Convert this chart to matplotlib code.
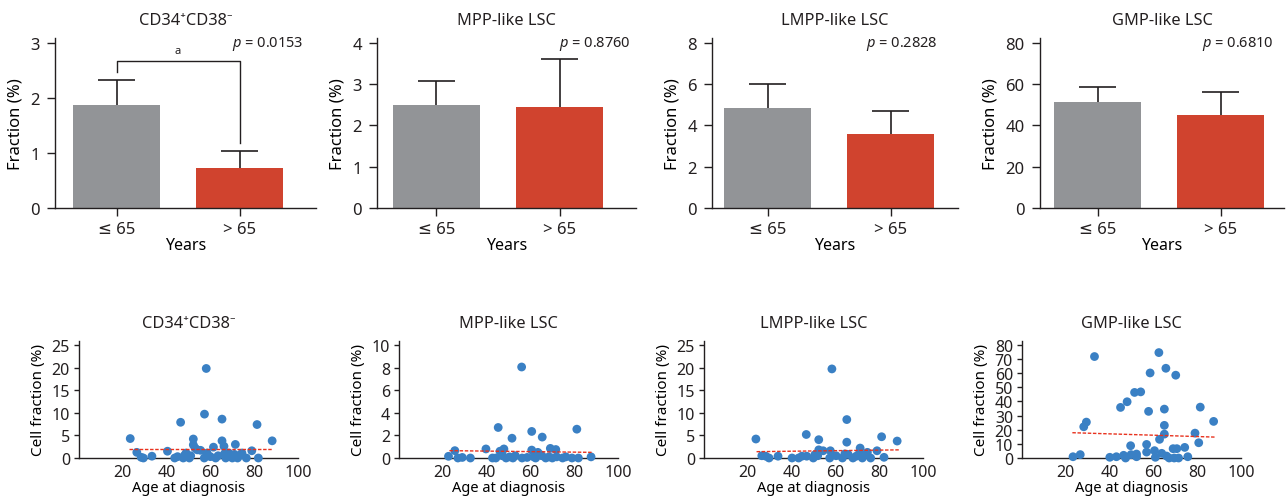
import numpy as np
import matplotlib
matplotlib.use("Agg")
import matplotlib.pyplot as plt

plt.rcParams['font.family'] = ['Noto Sans', 'DejaVu Sans']
plt.rcParams['mathtext.fontset'] = 'custom'
plt.rcParams['mathtext.it'] = 'Noto Sans:italic'
plt.rcParams['mathtext.rm'] = 'Noto Sans'
plt.rcParams['text.color'] = '#231f20'
plt.rcParams['axes.edgecolor'] = '#231f20'
plt.rcParams['xtick.color'] = '#231f20'
plt.rcParams['ytick.color'] = '#231f20'

# ---- data ----
titles = ['CD34⁺CD38⁻', 'MPP-like LSC', 'LMPP-like LSC', 'GMP-like LSC']
age_groups = ['≤ 65', '> 65']
bar_means = [[1.88, 0.73], [2.49, 2.45], [4.86, 3.57], [51.5, 45.2]]
bar_errs = [[0.45, 0.30], [0.60, 1.15], [1.16, 1.13], [7.0, 11.0]]
p_values = ['0.0153', '0.8760', '0.2828', '0.6810']
bar_yticks = [[0, 1, 2, 3], [0, 1, 2, 3, 4], [0, 2, 4, 6, 8], [0, 20, 40, 60, 80]]

cd34_age = [23.4, 26.4, 28.4, 29.4, 33.3, 40.4, 43.7, 45, 46.4, 47.6, 48.2, 48.9, 50.4, 51, 52.2,
            52.2, 53, 54, 55.5, 57.2, 57.3, 58.1, 58.5, 60, 61.4, 62.4, 63.5, 65.3, 65.3, 66.2,
            66.5, 67, 68.4, 69, 70, 71, 71.4, 72.4, 73.5, 74.4, 76.4, 78.9, 81.3, 81.9, 88.2]
cd34_frac = [4.3, 1.25, 0.15, 0, 0.4, 1.5, 0, 0.3, 7.9, 0, 0.6, 1.1, 0, 0.5, 4.2,
             2.9, 2.2, 1.8, 1.7, 0, 9.7, 19.8, 1.1, 0.3, 2.4, 0, 0.5, 8.6, 3.8, 2.6,
             1.0, 0, 1.1, 0.3, 0, 0.8, 3.0, 0, 0.6, 1.1, 0, 1.6, 7.4, 0, 3.8]

mpp_age = [22.6, 25.5, 26.9, 28.9, 32.6, 39.7, 42.7, 44.2, 45.3, 46.1, 47.2, 47.9, 48.9, 50.5,
           51.6, 52, 53.1, 56, 56.2, 58.5, 60.6, 60.6, 61.5, 62.4, 63.4, 64.5, 65.4, 65.2, 67,
           68.5, 69.1, 70, 71.6, 72, 74.7, 76.2, 79, 81.2, 81.9, 87.7]
mpp_frac = [0.15, 0.65, 0, 0.05, 0, 0.8, 0, 0, 2.7, 0.6, 0.2, 0.8, 0, 0.1,
            1.75, 0, 0.2, 8.05, 0, 0.05, 2.35, 0.7, 0.1, 0, 0.5, 0.3, 1.85, 0.2, 0,
            0.1, 0.85, 0, 0.75, 0.1, 0, 0.1, 0, 2.55, 0, 0.1]

lmpp_age = [23.7, 26.4, 28.2, 29.7, 33.8, 40.2, 43.2, 44.7, 46.7, 46.9, 49.9, 50.6, 51.9, 52.4,
            52.4, 54.4, 57.4, 57.7, 58.4, 60.3, 63.2, 64.3, 65.2, 65.2, 65.8, 68, 69.5, 70.8,
            71.3, 72.3, 73.4, 74.6, 76.1, 79, 81.1, 82.2, 88.2]
lmpp_frac = [4.2, 0.5, 0.4, 0, 0.4, 0, 0, 0.4, 5.2, 0.4, 0, 0.7, 0.5, 4.05,
             1.8, 1.6, 0, 1.6, 19.7, 0.5, 0, 0.9, 3.5, 8.5, 0.8, 0, 0.4, 0.9,
             2.2, 0, 0.7, 1.25, 0, 1.6, 4.7, 0.15, 3.75]

gmp_age = [23.3, 26.6, 28.2, 29.4, 33.1, 40.1, 43.1, 45, 46.4, 47.3, 48, 49.6, 49.8, 51.4, 52.3,
           52.3, 54.2, 56.9, 56.9, 57.8, 58.5, 60.5, 60.9, 62.5, 62.8, 63.8, 65, 65, 65, 65.7,
           66, 67.2, 69, 69.5, 70.2, 70.7, 71.5, 74.3, 75.7, 79, 80.7, 81.4, 87.5]
gmp_frac = [0.9, 2.4, 22.1, 25.4, 71.8, 0.5, 0.9, 35.8, 1.9, 0, 39.8, 8.7, 2.4, 46.4, 2.8,
            0.9, 46.8, 9.6, 4.2, 33, 60.2, 5.2, 0.5, 74.6, 13.2, 3.3, 16.9, 23.1, 34.6, 63.5,
            1.4, 0, 6.6, 0, 58.6, 6.6, 0, 7.5, 0.9, 17.6, 10.8, 36, 25.9]

scatter_ages = [cd34_age, mpp_age, lmpp_age, gmp_age]
scatter_fracs = [cd34_frac, mpp_frac, lmpp_frac, gmp_frac]
fit_x = [[23, 88], [23, 88], [24, 89], [23, 88]]
fit_y = [[1.9, 1.9], [0.65, 0.5], [1.4, 1.8], [17.9, 14.8]]
scatter_yticks = [[0, 5, 10, 15, 20, 25], [0, 2, 4, 6, 8, 10], [0, 5, 10, 15, 20, 25],
                  [0, 10, 20, 30, 40, 50, 60, 70, 80]]
age_ticks = [20, 40, 60, 80, 100]

GRAY = '#929497'
RED = '#d0432e'
BLUE = '#3a80c4'
INK = '#231f20'

W, H = 1288, 502
fig = plt.figure(figsize=(W / 100, H / 100), dpi=100)


def px_axes(left, top, width, height):
    return fig.add_axes([left / W, 1 - (top + height) / H, width / W, height / H])


# ---- top row: bar charts ----
bar_centers = [116.5, 436.5, 767.5, 1097.5]
xlims = [(-0.5, 1.62), (-0.48, 1.62), (-0.45, 1.55), (-0.47, 1.52)]
p_xpos = [1.52, 1.58, 1.38, 1.43]
unit = 123.0
for i in range(4):
    lo, hi = xlims[i]
    ax = px_axes(bar_centers[i] + lo * unit, 39, (hi - lo) * unit, 170)
    x = np.arange(2)
    means = np.array(bar_means[i])
    tops = means + np.array(bar_errs[i])
    ax.bar(x, means, width=0.71, color=[GRAY, RED], zorder=2)
    # upper error bars only
    ax.vlines(x, means, tops, color=INK, lw=1.2, zorder=1)
    ax.hlines(tops, x - 0.15, x + 0.15, color=INK, lw=1.2, zorder=1)
    ymax = bar_yticks[i][-1]
    ax.set_ylim(0, ymax * 1.03)
    ax.set_xlim(lo, hi)
    ax.set_yticks(bar_yticks[i])
    ax.set_xticks(x)
    ax.set_xticklabels(age_groups)
    ax.tick_params(axis='both', labelsize=12, length=6, width=1.0, pad=3)
    ax.tick_params(axis='y', pad=5)
    for s in ['top', 'right']:
        ax.spines[s].set_visible(False)
    for s in ['left', 'bottom']:
        ax.spines[s].set_linewidth(1.0)
    ax.set_ylabel('Fraction (%)', fontsize=12, labelpad=5)
    ax.set_xlabel('Years', fontsize=11.5, labelpad=0)
    ax.set_title(titles[i], fontsize=11.8, pad=10)
    ax.text(p_xpos[i], ymax, '$p$ = ' + p_values[i], fontsize=10.5, ha='right', va='center')
    if i == 0:
        ax.plot([0, 0, 1, 1], [tops[0] + 0.15, 2.67, 2.67, tops[1] + 0.15],
                color=INK, lw=1.0)
        ax.text(0.5, 2.76, 'a', fontsize=8, ha='center', va='bottom')

# ---- bottom row: scatter plots ----
scatter_lefts = [79, 399, 704, 1022]
for i in range(4):
    ax = px_axes(scatter_lefts[i], 342, 219, 117)
    ax.scatter(scatter_ages[i], scatter_fracs[i], s=40, color=BLUE, edgecolors='none',
               zorder=3, clip_on=False)
    ax.plot(fit_x[i], fit_y[i], color='#e8321e', lw=1.0, ls=(0, (2.5, 1.2)), zorder=4)
    ymax = scatter_yticks[i][-1]
    ax.set_xlim(0, 100)
    ax.set_ylim(0, ymax * 1.035)
    ax.set_xticks(age_ticks)
    ax.set_yticks(scatter_yticks[i])
    ax.tick_params(axis='x', length=0, labelsize=11.5, pad=4)
    ax.tick_params(axis='y', length=3.5, width=1.0, labelsize=11.5, pad=3)
    for s in ['top', 'right']:
        ax.spines[s].set_visible(False)
    for s in ['left', 'bottom']:
        ax.spines[s].set_linewidth(1.0)
    ax.set_xlabel('Age at diagnosis', fontsize=10.5, labelpad=0)
    ax.set_ylabel('Cell fraction (%)', fontsize=11, labelpad=4)
    ax.set_title(titles[i], fontsize=11.8, pad=10)

fig.savefig('out.png', dpi=100)
